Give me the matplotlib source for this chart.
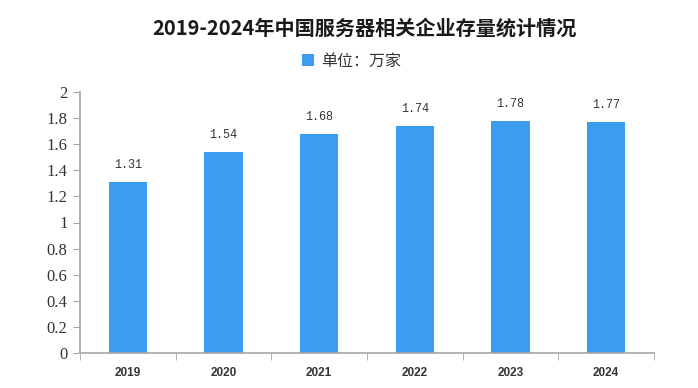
import matplotlib
matplotlib.use("Agg")
import matplotlib.pyplot as plt
import numpy as np

plt.rcParams['font.family'] = ['Noto Sans CJK SC', 'DejaVu Sans']

# Data
years = ['2019', '2020', '2021', '2022', '2023', '2024']
counts = [1.31, 1.54, 1.68, 1.74, 1.78, 1.77]
yticks = [0, 0.2, 0.4, 0.6, 0.8, 1, 1.2, 1.4, 1.6, 1.8, 2]

bar_color = '#3C9CF0'
axis_color = '#A6A6A6'

fig = plt.figure(figsize=(6.98, 3.88), dpi=100)
ax = fig.add_axes([80 / 698, 1 - 353 / 388, 574 / 698, 261 / 388])

x = np.arange(len(years))
bars = ax.bar(x, counts, width=0.4, color=bar_color, label='单位：万家', zorder=2)

# value labels above bars
for xi, v in zip(x, counts):
    ax.annotate(f"{v:.2f}", (xi, v), xytext=(0, 8), textcoords='offset points',
                ha='center', va='bottom', fontsize=8.5, color='#333333',
                family=['Liberation Mono', 'DejaVu Sans'])

ax.set_xlim(-0.5, len(years) - 0.5)
ax.set_ylim(0, 2)

ax.set_yticks(yticks)
ax.set_yticklabels([f"{t:g}" for t in yticks], family=['Liberation Serif'], fontsize=12, color='#333333')
ax.set_xticks(x)
ax.set_xticklabels(years, fontsize=8.5, color='#333333', fontweight='bold',
                   family=['Liberation Sans'])
ax.set_xticks(np.arange(-0.5, len(years)), minor=True)
ax.tick_params(axis='x', which='major', length=0, pad=10)
ax.tick_params(axis='x', which='minor', length=5, color=axis_color, direction='out')
ax.tick_params(axis='y', length=5, color=axis_color, direction='out', pad=4)

for s in ['top', 'right']:
    ax.spines[s].set_visible(False)
for s in ['left', 'bottom']:
    ax.spines[s].set_color(axis_color)
    ax.spines[s].set_linewidth(1.2)

fig.text(364 / 698, 1 - 28 / 388, '2019-2024年中国服务器相关企业存量统计情况',
         ha='center', va='center', fontsize=14.5, fontweight='bold', color='#1a1a1a')
ax.legend(loc='center', bbox_to_anchor=(352 / 698, 1 - 61 / 388), bbox_transform=fig.transFigure,
          frameon=False, fontsize=11.5, handlelength=0.7, handleheight=0.7, handletextpad=0.5,
          labelcolor='#333333')

fig.savefig('out.png', dpi=100)
